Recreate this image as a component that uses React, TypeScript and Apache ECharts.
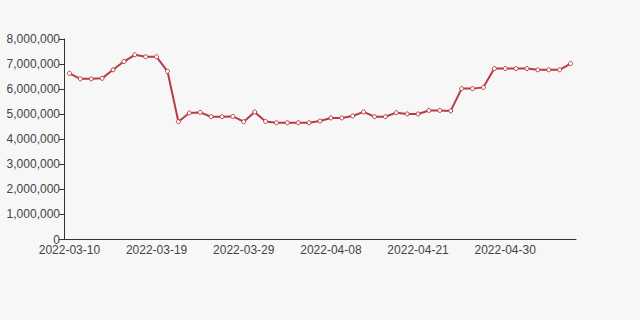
import React, { useEffect, useRef } from "react";
import * as echarts from "echarts";

const dates = [
  "2022-03-10", "2022-03-11", "2022-03-12", "2022-03-13", "2022-03-14", "2022-03-15", "2022-03-16", "2022-03-18",
  "2022-03-19", "2022-03-20", "2022-03-21", "2022-03-22", "2022-03-23", "2022-03-24", "2022-03-25", "2022-03-27",
  "2022-03-29", "2022-03-30", "2022-03-31", "2022-04-01", "2022-04-02", "2022-04-04", "2022-04-06", "2022-04-07",
  "2022-04-08", "2022-04-09", "2022-04-11", "2022-04-12", "2022-04-13", "2022-04-14", "2022-04-16", "2022-04-19",
  "2022-04-21", "2022-04-22", "2022-04-23", "2022-04-24", "2022-04-25", "2022-04-26", "2022-04-27", "2022-04-28",
  "2022-04-30", "2022-05-01", "2022-05-02", "2022-05-03", "2022-05-04", "2022-05-05", "2022-05-06",
];

const values = [
  6630000, 6410000, 6410000, 6430000, 6770000, 7100000, 7370000, 7290000,
  7290000, 6710000, 4700000, 5050000, 5070000, 4900000, 4900000, 4910000,
  4700000, 5090000, 4710000, 4660000, 4660000, 4660000, 4660000, 4730000,
  4850000, 4850000, 4930000, 5090000, 4900000, 4900000, 5060000, 5010000,
  5010000, 5150000, 5150000, 5130000, 6020000, 6020000, 6070000, 6820000,
  6820000, 6820000, 6820000, 6770000, 6770000, 6770000, 7020000,
];

export default function App() {
  const ref = useRef<HTMLDivElement>(null);
  useEffect(() => {
    if (!ref.current) return;
    const chart = echarts.init(ref.current, null, { renderer: "svg" });
    chart.setOption({
      animation: false,
      backgroundColor: "#f7f7f7",
      grid: { left: 64, right: 64, top: 39, bottom: 80.5 },
      xAxis: {
        type: "category",
        data: dates,
        boundaryGap: true,
        axisLine: { lineStyle: { color: "#333" } },
        axisTick: { interval: 7, lineStyle: { color: "#333" } },
        axisLabel: { interval: 7, color: "#444", fontSize: 12, margin: 4, fontFamily: "Liberation Sans, Arial, sans-serif" },
        splitLine: { show: false },
      },
      yAxis: {
        type: "value",
        min: 0,
        max: 8000000,
        interval: 1000000,
        axisLine: { show: true, lineStyle: { color: "#333" } },
        axisTick: { show: true, lineStyle: { color: "#333" } },
        axisLabel: {
          color: "#444",
          fontSize: 12,
          margin: 4,
          fontFamily: "Liberation Sans, Arial, sans-serif",
          formatter: (v: number) => v.toLocaleString("en-US"),
        },
        splitLine: { show: false },
      },
      series: [
        {
          type: "line",
          data: values,
          symbol: "circle",
          symbolSize: 4,
          showSymbol: true,
          lineStyle: { color: "#b83b45", width: 2 },
          itemStyle: { color: "#fff", borderColor: "#b83b45", borderWidth: 1 },
        },
      ],
    });
    return () => chart.dispose();
  }, []);
  return <div ref={ref} style={{ width: 640, height: 320, position: "absolute", left: 0, top: 0 }} />;
}
